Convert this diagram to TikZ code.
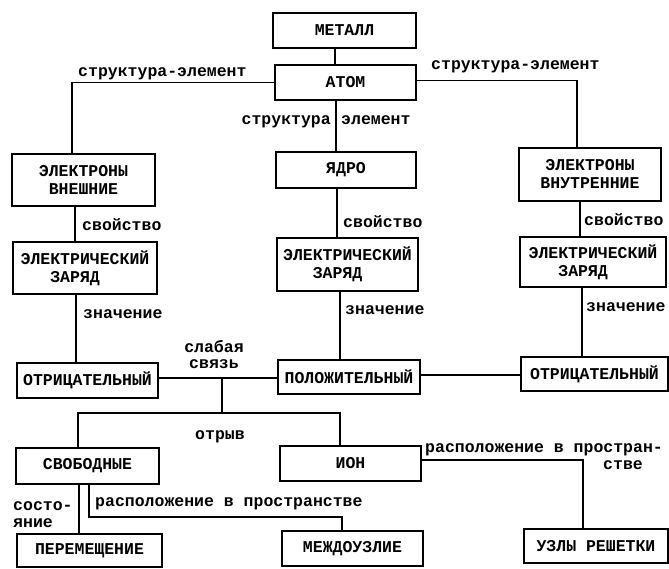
\documentclass[tikz,border=0pt]{standalone}
\usepackage{fontspec}
\setmainfont{Liberation Mono}
\tikzset{
  box/.style={draw, line width=1.1pt, inner sep=0pt, align=center, font=\fontsize{16.5}{18}\selectfont\bfseries},
  lbl/.style={inner sep=0pt, font=\fontsize{16.5}{16}\selectfont\bfseries},
  ln/.style={line width=1.1pt},
  sz/.style 2 args={minimum width=#1pt, minimum height=#2pt}}
\begin{document}
\begin{tikzpicture}[x=1pt,y=-1pt]
\useasboundingbox (0,0) rectangle (669,568);
% boxes
\node[box, sz={143}{35}] (metall) at (344.5,30.5) {МЕТАЛЛ};
\node[box, sz={141}{35}] (atom) at (345.5,82.5) {АТОМ};
\node[box, sz={140}{36}] (yadro) at (346,170) {ЯДРО};
\node[box, sz={143}{52}] (elvn) at (83.5,180) {ЭЛЕКТРОНЫ\\ВНЕШНИЕ};
\node[box, sz={142}{53}] (elvt) at (590,174.5) {ЭЛЕКТРОНЫ\\ВНУТРЕННИЕ};
\node[box, sz={144}{52}, align=left] (zl) at (85,268) {ЭЛЕКТРИЧЕСКИЙ\\\phantom{ЭЛЕ}ЗАРЯД};
\node[box, sz={141}{53}, align=left] (zc) at (347.5,264.5) {ЭЛЕКТРИЧЕСКИЙ\\\phantom{ЭЛЕ}ЗАРЯД};
\node[box, sz={146}{50}, align=left] (zr) at (593,262) {ЭЛЕКТРИЧЕСКИЙ\\\phantom{ЭЛЕ}ЗАРЯД};
\node[box, sz={141}{35}] (otl) at (87.5,380.5) {ОТРИЦАТЕЛЬНЫЙ};
\node[box, sz={142}{34}] (pol) at (349,377) {ПОЛОЖИТЕЛЬНЫЙ};
\node[box, sz={147}{34}] (otr) at (594.5,374) {ОТРИЦАТЕЛЬНЫЙ};
\node[box, sz={143}{36}] (svob) at (87.5,466) {СВОБОДНЫЕ};
\node[box, sz={141}{35}] (ion) at (350.5,463.5) {ИОН};
\node[box, sz={145}{33}] (perem) at (89.5,550.5) {ПЕРЕМЕЩЕНИЕ};
\node[box, sz={141}{35}] (mezh) at (352.5,548.5) {МЕЖДОУЗЛИЕ};
\node[box, sz={144}{34}] (uzly) at (596,546) {УЗЛЫ РЕШЕТКИ};
% labels
\node[lbl, anchor=base west] (l1) at (78,76) {структура-элемент};
\node[lbl, anchor=base west] (l2) at (431,69) {структура-элемент};
\node[lbl, anchor=base east] (l3) at (331,124) {структура};
\node[lbl, anchor=base west] (l4) at (341,124) {элемент};
\node[lbl, anchor=base west] (l5) at (82,230) {свойство};
\node[lbl, anchor=base west] (l6) at (343,227) {свойство};
\node[lbl, anchor=base west] (l7) at (584,225) {свойство};
\node[lbl, anchor=base west] (l8) at (83,318) {значение};
\node[lbl, anchor=base west] (l9) at (345,314) {значение};
\node[lbl, anchor=base west] (l10) at (586,311) {значение};
\node[lbl, align=center] (l11) at (214,355) {слабая\\связь};
\node[lbl, anchor=base west] (l12) at (195,439) {отрыв};
\node[lbl, anchor=north west, align=left, font=\fontsize{16.5}{16.5}\selectfont\bfseries] (l13) at (425,443.5) {расположение в простран-\\\hspace*{178pt}стве};
\node[lbl, anchor=north west, align=left, font=\fontsize{16.5}{17}\selectfont\bfseries] (l14) at (13,501.5) {состо-\\яние};
\node[lbl, anchor=base west] (l15) at (95,506) {расположение в пространстве};
% connectors
\coordinate (j1) at (222,378);
\coordinate (j2) at (222,413);
\coordinate (bl) at (78,413);
\coordinate (br) at (340,413);
\coordinate (c4) at (342,517);
\draw[ln] ([xshift=-9.5pt]metall.south) -- ([xshift=-10.5pt]atom.north);
\draw[ln] (atom.west) -| ([xshift=-11.5pt]elvn.north);
\draw[ln] ([yshift=2pt]atom.east) -| ([xshift=-13pt]elvt.north);
\draw[ln] ([xshift=-9.5pt]atom.south) -- ([xshift=-10pt]yadro.north);
\draw[ln] ([xshift=-9pt]yadro.south) -- ([xshift=-10.5pt]zc.north);
\draw[ln] ([xshift=-8.5pt]elvn.south) -- ([xshift=-10pt]zl.north);
\draw[ln] ([xshift=-9pt]zl.south) -- ([xshift=-11.5pt]otl.north);
\draw[ln] ([xshift=-7.5pt]zc.south) -- ([xshift=-9pt]pol.north);
\draw[ln] ([xshift=-10pt]elvt.south) -- ([xshift=-13pt]zr.north);
\draw[ln] ([xshift=-11pt]zr.south) -- ([xshift=-12.5pt]otr.north);
\draw[ln] (otl.east |- j1) -- (j1) -- (j1 -| pol.west);
\draw[ln] (j1) -- (j2);
\draw[ln] (svob.north -| bl) -- (bl) -- (br) -- (br |- ion.north);
\draw[ln] ([yshift=2pt]pol.east) -- ([yshift=2pt]pol.east -| otr.west);
\draw[ln] ([yshift=3.5pt]ion.east) -| ([xshift=-13pt]uzly.north);
\draw[ln] ([xshift=-8.5pt]svob.south) -- ([xshift=-10.5pt]perem.north);
\draw[ln] ([xshift=1.5pt]svob.south) |- (c4) -- (c4 |- mezh.north);
\end{tikzpicture}
\end{document}
